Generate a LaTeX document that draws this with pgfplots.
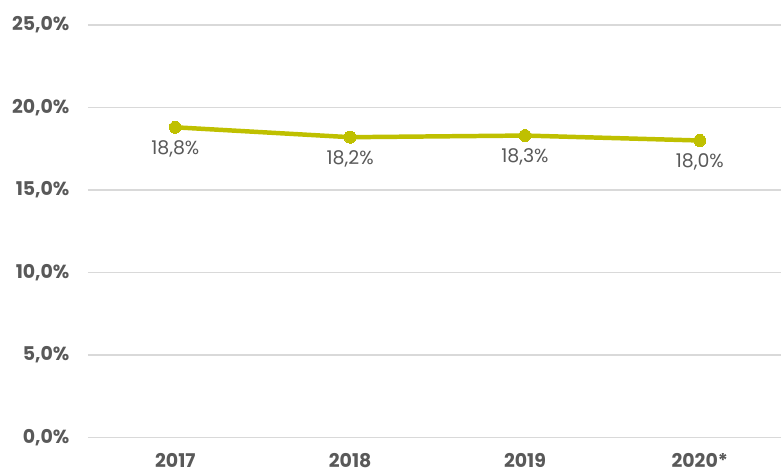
\documentclass[border=0pt]{standalone}
\usepackage{pgfplots}
\pgfplotsset{compat=1.18}
\usepackage{fontspec}
\setmainfont{Poppins}
\definecolor{lineol}{RGB}{191,192,0}
\definecolor{gridg}{RGB}{217,217,217}
\definecolor{txtg}{RGB}{89,89,89}
\begin{document}
\begin{tikzpicture}
\begin{axis}[
  at={(0,0)}, anchor=south west,
  scale only axis, width=694bp, height=413bp,
  xmin=-0.5, xmax=3.466, ymin=0, ymax=25,
  xtick={0,1,2,3}, xticklabels={2017,2018,2019,2020*},
  ytick={0,5,10,15,20,25},
  yticklabels={{0,0\%},{5,0\%},{10,0\%},{15,0\%},{20,0\%},{25,0\%}},
  axis line style={draw=none},
  tick style={draw=none},
  ymajorgrids, grid style={gridg, line width=1.5pt},
  tick label style={font=\fontsize{19}{21}\selectfont\bfseries, text=txtg},
  xticklabel style={yshift=-12bp},
  yticklabel style={xshift=-15bp},
  clip=false,
  nodes near coords,
  point meta=explicit symbolic,
  every node near coord/.append style={font=\fontsize{19}{21}\selectfont, text=txtg, anchor=north, yshift=-10bp},
]
\addplot[lineol, line width=4.5pt, mark=*, mark size=6bp, mark options={fill=lineol, draw=lineol, line width=0pt}]
  coordinates {(0,18.8) [18,8\%] (1,18.2) [18,2\%] (2,18.3) [18,3\%] (3,18.0) [18,0\%]};
\end{axis}
\useasboundingbox (-88bp,-36bp) rectangle (694bp,438bp);
\end{tikzpicture}
\end{document}
